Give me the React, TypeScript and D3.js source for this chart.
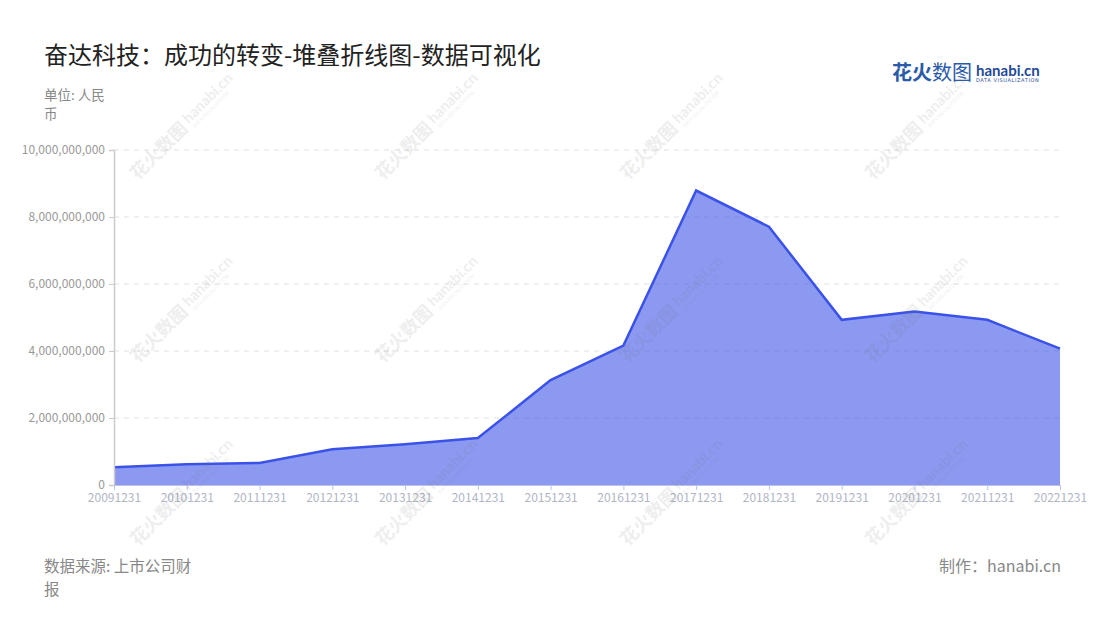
import React, { useEffect, useRef } from 'react';
import * as d3 from 'd3';

// report dates and revenue (RMB)
const periods = [
  '20091231', '20101231', '20111231', '20121231', '20131231', '20141231', '20151231',
  '20161231', '20171231', '20181231', '20191231', '20201231', '20211231', '20221231',
];
const revenue = [
  0.53e9, 0.62e9, 0.66e9, 1.07e9, 1.22e9, 1.40e9, 3.13e9,
  4.16e9, 8.79e9, 7.71e9, 4.93e9, 5.18e9, 4.93e9, 4.07e9,
];
const yTicks = [0, 2e9, 4e9, 6e9, 8e9, 10e9];

const FONT = '"Noto Sans CJK SC", "Noto Sans", sans-serif';

const App: React.FC = () => {
  const svgRef = useRef<SVGSVGElement>(null);

  useEffect(() => {
    if (!svgRef.current) return;
    const svg = d3.select(svgRef.current);
    svg.selectAll('*').remove();

    const width = 1100;
    const height = 620;
    const m = { left: 114, right: 1060, top: 150, bottom: 485 };

    svg.attr('width', width).attr('height', height).style('font-family', FONT);

    svg.append('rect').attr('width', width).attr('height', height).attr('fill', '#fff');

    const x = d3.scalePoint<string>().domain(periods).range([m.left, m.right]).padding(0);
    const y = d3.scaleLinear().domain([0, 10e9]).range([m.bottom, m.top]);

    // title & notes
    svg.append('text')
      .attr('x', 44).attr('y', 64)
      .attr('font-size', 24).attr('fill', '#222')
      .text('奋达科技：成功的转变-堆叠折线图-数据可视化');

    const unit = svg.append('text').attr('font-size', 13.5).attr('fill', '#888');
    unit.append('tspan').attr('x', 44).attr('y', 100).text('单位: 人民');
    unit.append('tspan').attr('x', 44).attr('y', 119).text('币');

    // logo
    const logo = svg.append('g');
    logo.append('text')
      .attr('x', 892).attr('y', 80)
      .attr('font-size', 20).attr('font-weight', 'bold').attr('fill', '#2a5aa8')
      .text('花火');
    logo.append('text')
      .attr('x', 932).attr('y', 80)
      .attr('font-size', 20).attr('fill', '#2a5aa8')
      .text('数图');
    logo.append('text')
      .attr('x', 976).attr('y', 76)
      .attr('font-size', 15).attr('font-weight', 'bold').attr('fill', '#1f4a96')
      .attr('font-family', 'Lato, "Noto Sans", sans-serif')
      .text('hanabi.cn');
    logo.append('text')
      .attr('x', 976).attr('y', 82)
      .attr('font-size', 5).attr('fill', '#1f4a96').attr('letter-spacing', 0.6)
      .attr('font-family', '"DejaVu Sans", sans-serif')
      .text('DATA VISUALIZATION');

    // grid
    svg.append('g')
      .selectAll('line')
      .data(yTicks.filter(d => d > 0))
      .join('line')
      .attr('x1', m.left).attr('x2', m.right)
      .attr('y1', d => y(d)).attr('y2', d => y(d))
      .attr('stroke', '#e0e0e0').attr('stroke-dasharray', '5,5');

    // area + line
    const pts = periods.map((p, i) => ({ p, v: revenue[i] }));
    const area = d3.area<{ p: string; v: number }>()
      .x(d => x(d.p)!)
      .y0(y(0))
      .y1(d => y(d.v));
    const line = d3.line<{ p: string; v: number }>()
      .x(d => x(d.p)!)
      .y(d => y(d.v));

    svg.append('path').datum(pts).attr('d', area).attr('fill', '#3d55e8').attr('fill-opacity', 0.6);
    svg.append('path').datum(pts).attr('d', line)
      .attr('fill', 'none').attr('stroke', '#3a52e8').attr('stroke-width', 2.5)
      .attr('stroke-linejoin', 'miter');

    // y axis
    const yAxis = svg.append('g')
      .attr('transform', `translate(${m.left},0)`)
      .call(d3.axisLeft(y).tickValues(yTicks).tickSize(5).tickPadding(4).tickFormat(d => d3.format(',')(d as number)));
    yAxis.select('.domain').attr('stroke', '#ccc').attr('stroke-width', 1.5);
    yAxis.selectAll('.tick line').attr('stroke', '#ccc');
    yAxis.selectAll('.tick text').attr('fill', '#999').attr('font-size', 12).attr('font-family', FONT);

    // x axis
    const xAxis = svg.append('g')
      .attr('transform', `translate(0,${m.bottom})`)
      .call(d3.axisBottom(x).tickSize(5).tickSizeOuter(0).tickPadding(3));
    xAxis.select('.domain').attr('stroke', '#bcc3e6');
    xAxis.selectAll('.tick line').attr('stroke', '#bcc3e6');
    xAxis.selectAll('.tick text').attr('fill', '#b0b5c5').attr('font-size', 12).attr('font-family', FONT);

    // watermarks
    const wmX = [183, 428, 673, 918];
    const wmY = [127, 310, 493];
    const wm = svg.append('g').attr('pointer-events', 'none');
    wmY.forEach(cy => wmX.forEach(cx => {
      const g = wm.append('g').attr('transform', `translate(${cx},${cy}) rotate(-45)`).attr('opacity', 0.12);
      g.append('text').attr('x', -70).attr('y', 6)
        .attr('font-size', 18).attr('font-weight', 'bold').attr('fill', '#777')
        .text('花火数图');
      g.append('text').attr('x', 6).attr('y', 2)
        .attr('font-size', 15).attr('font-weight', 'bold').attr('fill', '#777')
        .attr('font-family', 'Lato, sans-serif')
        .text('hanabi.cn');
      g.append('text').attr('x', 8).attr('y', 9)
        .attr('font-size', 5).attr('fill', '#777')
        .text('DATA VISUALIZATION');
    }));

    // footer
    const src = svg.append('text').attr('font-size', 15.5).attr('fill', '#888');
    src.append('tspan').attr('x', 44).attr('y', 572).text('数据来源: 上市公司财');
    src.append('tspan').attr('x', 44).attr('y', 595).text('报');
    svg.append('text')
      .attr('x', 1061).attr('y', 572).attr('text-anchor', 'end')
      .attr('font-size', 16).attr('fill', '#888')
      .text('制作：hanabi.cn');
  }, []);

  return (
    <div style={{ width: 1100, height: 620, margin: -8 }}>
      <svg ref={svgRef} style={{ display: 'block' }}></svg>
    </div>
  );
};

export default App;
